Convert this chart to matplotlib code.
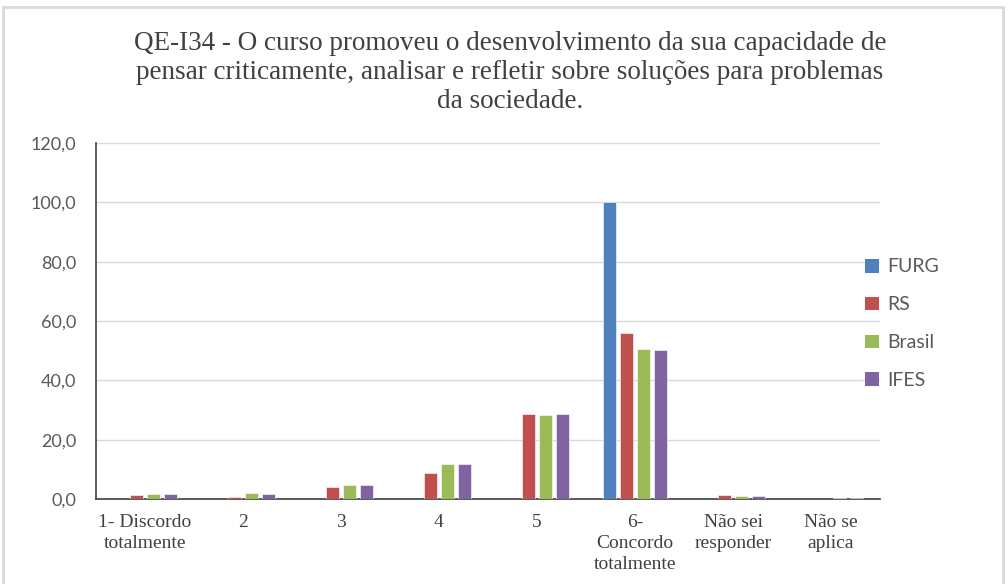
import matplotlib
matplotlib.use("Agg")
import matplotlib.pyplot as plt
import numpy as np
from matplotlib.patches import Rectangle, Patch

categories = ["1- Discordo\ntotalmente", "2", "3", "4", "5",
              "6-\nConcordo\ntotalmente", "Não sei\nresponder", "Não se\naplica"]
series_names = ["FURG", "RS", "Brasil", "IFES"]
furg = [0.0, 0.0, 0.0, 0.0, 0.0, 100.0, 0.0, 0.0]
rs = [1.2, 0.6, 3.9, 8.9, 28.6, 56.0, 1.3, 0.0]
brasil = [1.6, 2.0, 4.6, 11.9, 28.3, 50.6, 0.9, 0.5]
ifes = [1.6, 1.6, 4.6, 11.9, 28.6, 50.2, 0.9, 0.5]
yticks = [0, 20, 40, 60, 80, 100, 120]
title = ("QE-I34 - O curso promoveu o desenvolvimento da sua capacidade de\n"
         "pensar criticamente, analisar e refletir sobre soluções para problemas\n"
         "da sociedade.")
colors = ["#4F81BD", "#C0504D", "#9BBB59", "#8064A2"]

W, H = 1008, 584
fig = plt.figure(figsize=(W / 100, H / 100), dpi=100)
fig.patch.set_facecolor("white")

# outer chart border
fig.patches.append(Rectangle((3 / W, -0.05), (1003 - 3) / W, (H - 7) / H + 0.05,
                             transform=fig.transFigure, fill=False,
                             edgecolor="#d9d9d9", linewidth=2))

ax = fig.add_axes([96 / W, 1 - 499 / H, (880 - 96) / W, (499 - 143) / H])
x = np.arange(len(categories))
all_series = [furg, rs, brasil, ifes]
bw = 0.137
step = 0.172
for i, (vals, c, name) in enumerate(zip(all_series, colors, series_names)):
    ax.bar(x + (i - 1.5) * step, vals, width=bw, color=c, edgecolor="white",
           linewidth=0.4, label=name, zorder=3)

ax.set_xlim(-0.5, len(categories) - 0.5)
ax.set_ylim(0, 120)
ax.set_yticks(yticks)
ax.set_yticklabels([f"{v:.1f}".replace(".", ",") for v in yticks],
                   fontfamily="Lato", fontsize=13, color="#595959")
ax.set_xticks(x)
ax.set_xticklabels(categories, fontfamily="Liberation Serif", fontsize=14,
                   color="#404040", linespacing=1.3, va="top")
ax.tick_params(axis="y", length=0, pad=14)
ax.tick_params(axis="x", length=0, pad=11)
ax.grid(axis="y", color="#d9d9d9", linewidth=1, zorder=0)
for s in ["top", "right"]:
    ax.spines[s].set_visible(False)
ax.spines["left"].set_color("#404040")
ax.spines["bottom"].set_color("#404040")
ax.spines["left"].set_linewidth(1.2)
ax.spines["bottom"].set_linewidth(1.2)

fig.text(510 / W, 1 - 31 / H, title, ha="center", va="top",
         fontfamily="Liberation Serif", fontsize=19.5, color="#404040",
         linespacing=1.22)

handles = [Patch(facecolor=c, edgecolor="none") for c in colors]
fig.legend(handles, series_names, loc="upper left",
           bbox_to_anchor=(847 / W, 1 - 241 / H), frameon=False,
           prop={"family": "Lato", "size": 14}, labelcolor="#595959",
           handlelength=0.75, handleheight=0.7, handletextpad=0.4,
           labelspacing=1.07)

fig.savefig("out.png", dpi=100, facecolor="white")
